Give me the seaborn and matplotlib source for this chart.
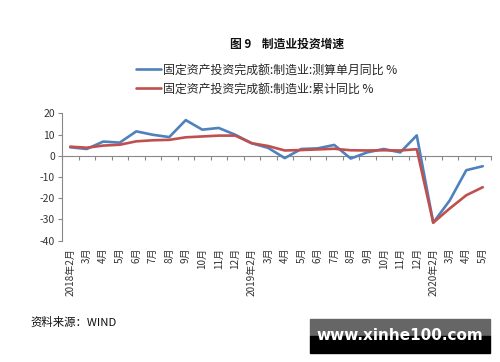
import pandas as pd
import numpy as np
import matplotlib
matplotlib.use('Agg')
import matplotlib.pyplot as plt
import seaborn as sns

# datos
meses = ['2018年2月', '3月', '4月', '5月', '6月', '7月', '8月', '9月', '10月', '11月', '12月',
         '2019年2月', '3月', '4月', '5月', '6月', '7月', '8月', '9月', '10月', '11月', '12月',
         '2020年2月', '3月', '4月', '5月']
danyue = [4.0, 3.2, 6.7, 6.2, 11.5, 9.9, 8.8, 16.8, 12.3, 13.1, 9.9,
          5.9, 3.7, -1.1, 3.2, 3.5, 5.1, -1.3, 1.6, 3.2, 1.6, 9.6,
          -31.5, -21.0, -6.8, -4.9]
leiji = [4.3, 3.8, 4.8, 5.2, 6.8, 7.3, 7.5, 8.7, 9.1, 9.5, 9.5,
         5.9, 4.6, 2.5, 2.7, 3.0, 3.3, 2.6, 2.5, 2.6, 2.5, 3.1,
         -31.5, -24.8, -18.6, -14.8]
serie_1 = '固定资产投资完成额:制造业:测算单月同比 %'
serie_2 = '固定资产投资完成额:制造业:累计同比 %'
yticks = [-40, -30, -20, -10, 0, 10, 20]

n = len(meses)
df = pd.DataFrame({
    'pos': list(range(n)) * 2,
    'valor': danyue + leiji,
    'serie': [serie_1] * n + [serie_2] * n,
})

sns.set_style('ticks')
plt.rcParams['font.family'] = ['Noto Sans CJK SC', 'DejaVu Sans']

fig = plt.figure(figsize=(5, 3.62), dpi=100)
ax = fig.add_axes([0.124, 0.335, 0.858, 0.352])

sns.lineplot(data=df, x='pos', y='valor', hue='serie', ax=ax,
             palette=['#4F81BD', '#C0504D'], linewidth=1.9, legend=False)

ax.set_xlim(-0.5, n - 0.5)
ax.set_ylim(-40, 20)
ax.set_yticks(yticks)
ax.set_yticklabels([str(v) for v in yticks], fontsize=7.5, color='#333333')
ax.set_xticks(range(n))
ax.set_xticklabels(meses, rotation=90, fontsize=7.2, color='#333333', va='top')
ax.tick_params(axis='x', length=0, pad=5)
ax.tick_params(axis='y', length=3, color='#888888', width=0.8, pad=2)
ax.set_xlabel('')
ax.set_ylabel('')
for s in ['top', 'right', 'bottom']:
    ax.spines[s].set_visible(False)
ax.spines['left'].set_color('#888888')
ax.spines['left'].set_linewidth(0.8)

# eje horizontal en cero con marcas entre categorias
pos0 = (0 - (-40)) / 60
sec = ax.secondary_xaxis(pos0)
sec.set_alignment('bottom')
sec.set_xticks(np.arange(n + 1) - 0.5)
sec.tick_params(axis='x', length=3, color='#888888', width=0.8, labelbottom=False, labeltop=False)
sec.spines['bottom'].set_color('#888888')
sec.spines['bottom'].set_linewidth(0.8)

# leyenda
lineas = ax.get_lines()
fig.legend(lineas[:2], [serie_1, serie_2], loc='upper left',
           bbox_to_anchor=(0.272, 0.825), frameon=False, fontsize=8.6,
           handlelength=2.1, handletextpad=0.15, labelspacing=0.5,
           borderaxespad=0, borderpad=0)

fig.text(0.575, 0.878, '图 9    制造业投资增速', ha='center', va='center',
         fontsize=8.5, fontweight='bold', color='#111111')
fig.text(0.06, 0.11, '资料来源：WIND', ha='left', va='center', fontsize=8.2, color='#111111')

# marca de agua
fig.patches.append(plt.Rectangle((0.62, 0.072), 0.36, 0.047, transform=fig.transFigure,
                                 color='#666666', zorder=5))
fig.patches.append(plt.Rectangle((0.62, 0.025), 0.36, 0.047, transform=fig.transFigure,
                                 color='black', zorder=5))
fig.text(0.80, 0.072, 'www.xinhe100.com', ha='center', va='center', fontsize=11,
         fontweight='bold', color='white', family='DejaVu Sans', zorder=6)

plt.savefig('out.png', dpi=100)
plt.close()
